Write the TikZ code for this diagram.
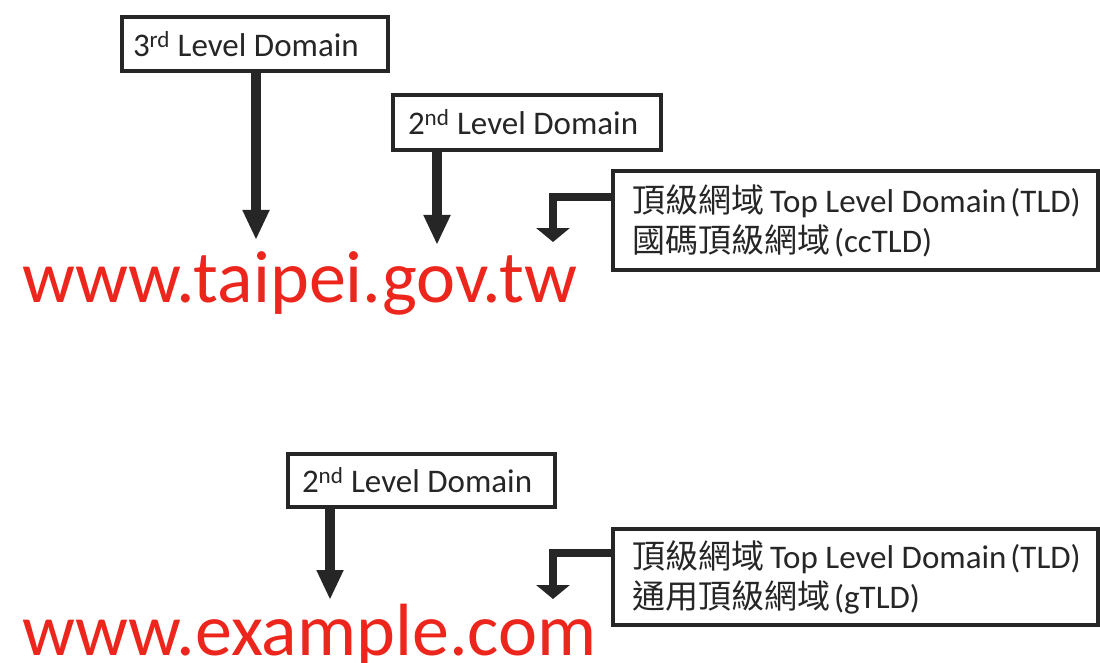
\documentclass[tikz,border=0pt]{standalone}
\usepackage{fontspec}
\setmainfont{Carlito}
\newfontfamily\cjk{Noto Sans CJK TC}
\usetikzlibrary{arrows.meta}
\definecolor{ink}{RGB}{38,38,38}
\definecolor{urlred}{RGB}{236,38,28}
\newcommand{\tldline}[1]{\mbox{{\cjk #1}\hspace{6pt}Top Level Domain\hspace{4pt}(TLD)}}
\begin{document}
\begin{tikzpicture}[x=1pt,y=-1pt,
  label box/.style={draw=ink, line width=4pt, anchor=north west, align=left,
    text=ink, inner ysep=0pt, font=\fontsize{33}{40}\selectfont,
    execute at begin node={\spaceskip=0.23em plus 0.05em minus 0.05em\relax}},
  down arrow/.style={draw=ink, line width=10pt,
    -{Triangle[length=30pt,width=25pt]}},
  bent arrow/.style={draw=ink, line width=8pt, line join=miter,
    -{Triangle[length=14pt,width=33pt]}},
  url/.style={anchor=base west, inner sep=0pt, text=urlred,
    font=\fontsize{74}{80}\selectfont}]
\useasboundingbox (0,0) rectangle (1100,663);

% ---- www.taipei.gov.tw ----
\node[label box, minimum width=266pt, minimum height=54pt, inner xsep=11pt,
      text width=244pt] (third) at (120,15) {3\textsuperscript{rd} Level Domain};
\node[label box, minimum width=268pt, minimum height=55pt, inner xsep=15pt,
      text width=238pt] (secondA) at (391,93) {2\textsuperscript{nd} Level Domain};
\node[label box, minimum width=485pt, minimum height=99pt, inner xsep=19pt,
      text width=447pt] (tldA) at (611,169)
  {\tldline{頂級網域}\\{\cjk 國碼頂級網域}\hspace{4pt}(ccTLD)};
\node[url] (urlA) at (22,302) {www.taipei.gov.tw};

\coordinate (tipA1) at (256,240);
\coordinate (tipA2) at (437,245);
\coordinate (bendA) at (553,197);
\coordinate (tipA3) at (553,242);
\draw[down arrow] (third.south -| tipA1) -- (tipA1);
\draw[down arrow] (secondA.south -| tipA2) -- (tipA2);
\draw[bent arrow] (tldA.west |- bendA) -- (bendA) -- (tipA3);

% ---- www.example.com ----
\node[label box, minimum width=267pt, minimum height=53pt, inner xsep=14pt,
      text width=239pt] (secondB) at (286,452) {2\textsuperscript{nd} Level Domain};
\node[label box, minimum width=485pt, minimum height=96pt, inner xsep=19pt,
      text width=447pt] (tldB) at (611,527)
  {\tldline{頂級網域}\\{\cjk 通用頂級網域}\hspace{4pt}(gTLD)};
\node[url] (urlB) at (22,655) {www.example.com};

\coordinate (tipB1) at (330,600);
\coordinate (bendB) at (553,553);
\coordinate (tipB2) at (553,599);
\draw[down arrow] (secondB.south -| tipB1) -- (tipB1);
\draw[bent arrow] (tldB.west |- bendB) -- (bendB) -- (tipB2);
\end{tikzpicture}
\end{document}
